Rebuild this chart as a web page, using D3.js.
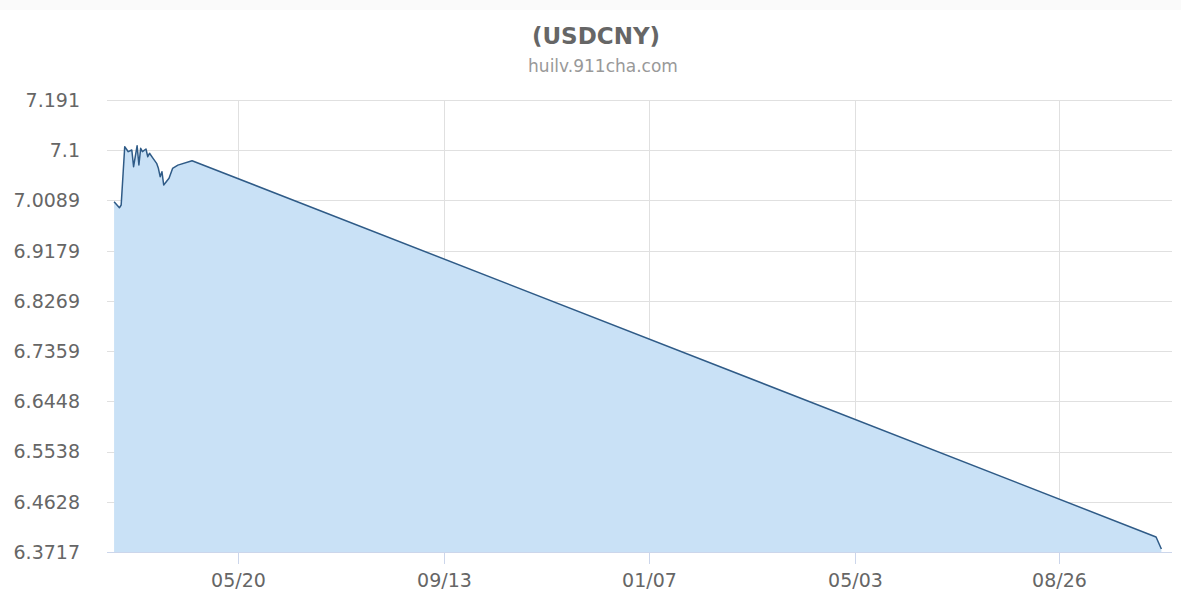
<!DOCTYPE html>
<html><head><meta charset="utf-8">
<script src="https://cdn.jsdelivr.net/npm/d3@7"></script>
<style>
html,body{margin:0;padding:0;background:#fff;}
svg{display:block;font-family:"DejaVu Sans",sans-serif;}
</style></head>
<body>
<svg id="chart" width="1181" height="598"></svg>
<script>
// ---- data ----
const dates = ["2020-03-11","2020-03-14","2020-03-15","2020-03-17","2020-03-19","2020-03-21","2020-03-22",
  "2020-03-24","2020-03-25","2020-03-26","2020-03-27","2020-03-29","2020-03-30","2020-03-31","2020-04-02",
  "2020-04-04","2020-04-05","2020-04-06","2020-04-07","2020-04-08","2020-04-11","2020-04-13","2020-04-16",
  "2020-04-24","2021-10-20","2021-10-23"];
const rates = [7.0067,6.9957,7.0007,7.1063,7.0973,7.1004,7.0701,
  7.1081,7.0732,7.1034,7.0973,7.1022,7.0882,7.0944,7.0853,
  7.0762,7.0672,7.0520,7.0610,7.0369,7.0491,7.0670,7.0730,
  7.0810,6.3990,6.3771];
const yTicks = [6.3717,6.4628,6.5538,6.6448,6.7359,6.8269,6.9179,7.0089,7.1,7.191];
const xTickDates = ["2020-05-20","2020-09-13","2021-01-07","2021-05-03","2021-08-26"];
const xTickLabels = ["05/20","09/13","01/07","05/03","08/26"];
const title = "(USDCNY)";
const subtitle = "huilv.911cha.com";

// ---- layout ----
const svg = d3.select("#chart");
const parse = d3.utcParse("%Y-%m-%d");
const L = 107, R = 1172, T = 100, B = 552;
const x = d3.scaleUtc().domain([parse("2020-03-07"), parse("2021-10-29")]).range([L, R]);
const y = d3.scaleLinear().domain([6.3717, 7.191]).range([B, T]);
const data = dates.map((d,i)=>({d:parse(d), v:rates[i]}));

svg.append("rect").attr("width",1181).attr("height",598).attr("fill","#fff");
svg.append("rect").attr("width",1181).attr("height",10).attr("fill","#fafafa");

// horizontal grid + y labels
const yg = svg.append("g");
yTicks.forEach(t=>{
  yg.append("line").attr("x1",L).attr("x2",R).attr("y1",Math.round(y(t))+0.5).attr("y2",Math.round(y(t))+0.5)
    .attr("stroke","#e0e0e0").attr("stroke-width",1);
  yg.append("text").attr("x",80).attr("y",y(t)).attr("dy","0.36em").attr("text-anchor","end")
    .attr("font-size",19).attr("fill","#666").text(String(t));
});

// vertical grid
const xg = svg.append("g");
xTickDates.forEach((d,i)=>{
  const px = Math.round(x(parse(d)))+0.5;
  xg.append("line").attr("x1",px).attr("x2",px).attr("y1",T).attr("y2",B)
    .attr("stroke","#e0e0e0").attr("stroke-width",1);
  xg.append("line").attr("x1",px).attr("x2",px).attr("y1",B).attr("y2",B+12)
    .attr("stroke","#ccd6eb").attr("stroke-width",1);
  xg.append("text").attr("x",px).attr("y",587).attr("text-anchor","middle")
    .attr("font-size",19).attr("fill","#666").text(xTickLabels[i]);
});

// area + line
const area = d3.area().x(d=>x(d.d)).y0(B).y1(d=>y(d.v));
const line = d3.line().x(d=>x(d.d)).y(d=>y(d.v));
svg.append("path").datum(data).attr("d",area).attr("fill","#c9e1f6");
svg.append("path").datum(data).attr("d",line).attr("fill","none")
  .attr("stroke","#2f5b87").attr("stroke-width",1.5).attr("stroke-linejoin","round");

// x axis line
svg.append("line").attr("x1",L).attr("x2",R).attr("y1",B+0.5).attr("y2",B+0.5)
  .attr("stroke","#ccd6eb").attr("stroke-width",1);

// titles
svg.append("text").attr("x",596).attr("y",44).attr("text-anchor","middle")
  .attr("font-size",23).attr("font-weight","bold").attr("fill","#666").text(title);
svg.append("text").attr("x",603).attr("y",72).attr("text-anchor","middle")
  .attr("font-size",17).attr("fill","#999").text(subtitle);
</script>
</body></html>
